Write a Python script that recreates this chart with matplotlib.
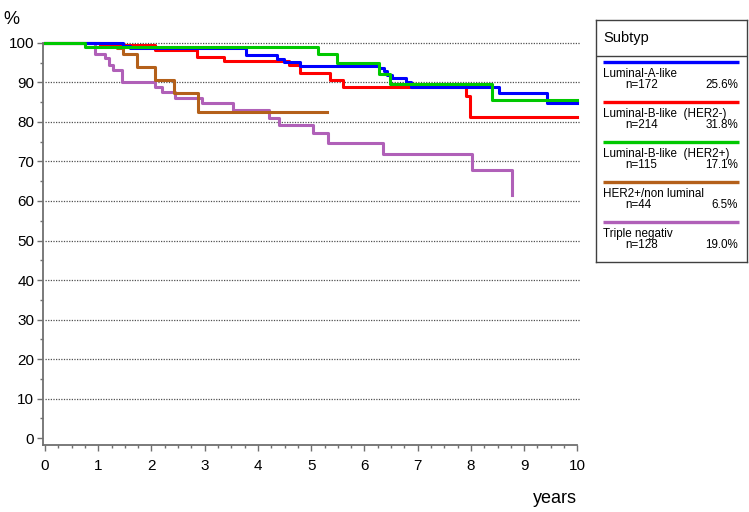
import matplotlib
matplotlib.use("Agg")
import matplotlib.pyplot as plt
from matplotlib.ticker import MultipleLocator

plt.rcParams['font.family'] = ['Liberation Sans', 'DejaVu Sans']

# Kaplan-Meier style step curves
t_lumA = [0, 1.47, 1.6, 3.77, 4.35, 4.48, 4.79, 6.28, 6.37, 6.43, 6.51, 6.79, 6.88, 8.53, 9.42, 10.0]
s_lumA = [100, 99.3, 98.6, 96.9, 95.9, 95.2, 94.2, 93.5, 92.8, 91.8, 91.2, 90.0, 88.8, 87.2, 84.8, 84.8]

t_lumB_neg = [0, 1.03, 2.07, 2.85, 3.36, 4.59, 4.79, 5.35, 5.59, 7.91, 7.98, 10.0]
s_lumB_neg = [100, 99.4, 98.2, 96.5, 95.4, 94.4, 92.4, 90.7, 88.9, 86.5, 81.3, 81.3]

t_lumB_pos = [0, 0.76, 5.12, 5.49, 6.28, 6.48, 8.39, 10.0]
s_lumB_pos = [100, 99.0, 97.1, 94.8, 92.0, 89.6, 85.5, 85.5]

t_her2 = [0, 1.35, 1.47, 1.73, 2.07, 2.43, 2.87, 5.29]
s_her2 = [100, 98.8, 97.1, 93.9, 90.7, 87.2, 82.6, 82.6]

t_tn = [0, 0.94, 1.13, 1.2, 1.28, 1.44, 2.07, 2.19, 2.44, 2.94, 3.54, 4.21, 4.40, 5.04, 5.32, 6.35, 8.02, 8.78]
s_tn = [100, 97.1, 96.1, 94.5, 93.1, 90.0, 88.9, 87.5, 86.1, 84.8, 83.0, 80.9, 79.2, 77.1, 74.6, 72.0, 67.8, 61.5]

names = ["Luminal-A-like", "Luminal-B-like  (HER2-)", "Luminal-B-like  (HER2+)",
         "HER2+/non luminal", "Triple negativ"]
n_counts = ["n=172", "n=214", "n=115", "n=44", "n=128"]
pcts = ["25.6%", "31.8%", "17.1%", "6.5%", "19.0%"]
colors = ["#0000FF", "#FF0000", "#00C800", "#B4601A", "#B060B8"]

curves = [(t_lumA, s_lumA), (t_lumB_neg, s_lumB_neg), (t_lumB_pos, s_lumB_pos),
          (t_her2, s_her2), (t_tn, s_tn)]

fig = plt.figure(figsize=(7.49, 5.12), dpi=100)
ax = fig.add_axes([0.057, 0.1309, 0.721, 0.7933])

for yv in range(10, 101, 10):
    ax.plot([0, 10.05], [yv, yv], color="#505050", lw=0.9, ls=(0, (1, 1.1)), zorder=1)

# draw order: purple/brown under, then others
for i in [4, 3, 1, 0, 2]:
    t, s = curves[i]
    ax.step(t, s, where="post", color=colors[i], lw=2.2, zorder=3)

ax.set_xlim(-0.043, 10.1)
ax.set_ylim(-1.7, 101)
for side in ["top", "right"]:
    ax.spines[side].set_visible(False)
for side in ["left", "bottom"]:
    ax.spines[side].set_color("#707070")
    ax.spines[side].set_linewidth(1.3)
ax.spines["left"].set_bounds(-1.7, 100)
ax.spines["bottom"].set_bounds(-0.043, 10)

ax.set_xticks(range(0, 11))
ax.xaxis.set_minor_locator(MultipleLocator(0.25))
ax.set_yticks(range(0, 101, 10))
ax.yaxis.set_minor_locator(MultipleLocator(5))
ax.tick_params(axis="both", which="major", length=4, width=1, color="#707070",
               labelsize=11, labelcolor="black")
ax.tick_params(axis="both", which="minor", length=2.5, width=1, color="#707070")
ax.tick_params(axis="x", pad=6)
ax.tick_params(axis="y", pad=2)

fig.text(0.005, 0.962, "%", fontsize=13, ha="left", va="center")
fig.text(0.770, 0.027, "years", fontsize=13, ha="right", va="center")

# legend box
lax = fig.add_axes([596 / 749, 1 - 262.3 / 512, 151 / 749, 242.3 / 512])
lax.set_xlim(0, 151)
lax.set_ylim(242.3, 0)
lax.set_xticks([])
lax.set_yticks([])
for sp in lax.spines.values():
    sp.set_color("#404040")
    sp.set_linewidth(1)
lax.axhline(35.7, color="#404040", lw=1)
lax.text(7, 22.3, "Subtyp", fontsize=10.5, ha="left", va="baseline")
for i in range(5):
    y0 = 42.3 + 40 * i
    lax.plot([7, 143], [y0, y0], color=colors[i], lw=2.4, solid_capstyle="butt")
    lax.text(7, y0 + 14.4, names[i], fontsize=8.4, ha="left", va="baseline")
    lax.text(29, y0 + 25.4, n_counts[i], fontsize=8.4, ha="left", va="baseline")
    lax.text(142, y0 + 25.4, pcts[i], fontsize=8.4, ha="right", va="baseline")

fig.savefig("out.png", dpi=100)
